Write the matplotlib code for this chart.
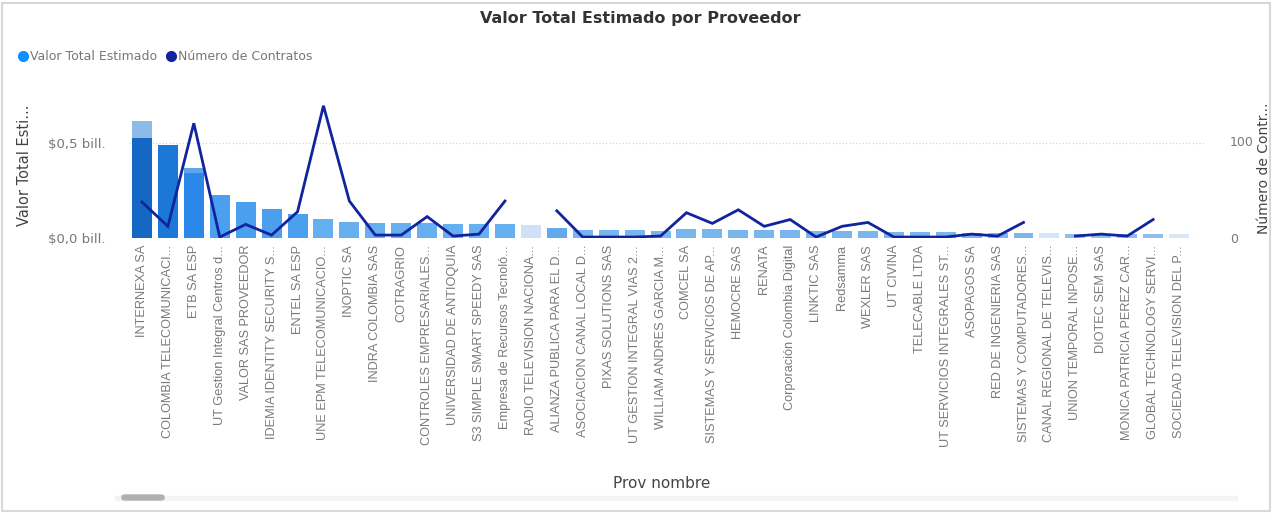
import numpy as np
import matplotlib
matplotlib.use("Agg")
import matplotlib.pyplot as plt
from matplotlib.patches import FancyBboxPatch, Rectangle
from matplotlib.lines import Line2D

# data
proveedores = [
    "INTERNEXA SA", "COLOMBIA TELECOMUNICACI...", "ETB SA ESP",
    "UT Gestion Integral Centros d...", "VALOR SAS PROVEEDOR",
    "IDEMIA IDENTITY SECURITY S...", "ENTEL SA ESP", "UNE EPM TELECOMUNICACIO...",
    "INOPTIC SA", "INDRA COLOMBIA SAS", "COTRAGRIO", "CONTROLES EMPRESARIALES...",
    "UNIVERSIDAD DE ANTIOQUIA", "S3 SIMPLE SMART SPEEDY SAS",
    "Empresa de Recursos Tecnoló...", "RADIO TELEVISION NACIONA...",
    "ALIANZA PUBLICA PARA EL D...", "ASOCIACION CANAL LOCAL D...",
    "PIXAS SOLUTIONS SAS", "UT GESTION INTEGRAL VIAS 2...",
    "WILLIAM ANDRES GARCIA M...", "COMCEL SA", "SISTEMAS Y SERVICIOS DE AP...",
    "HEMOCRE SAS", "RENATA", "Corporación Colombia Digital", "LINKTIC SAS",
    "Redsamma", "WEXLER SAS", "UT CIVINA", "TELECABLE LTDA",
    "UT SERVICIOS INTEGRALES ST...", "ASOPAGOS SA", "RED DE INGENIERIA SAS",
    "SISTEMAS Y COMPUTADORES...", "CANAL REGIONAL DE TELEVIS...",
    "UNION TEMPORAL INPOSE...", "DIOTEC SEM SAS", "MONICA PATRICIA PEREZ CAR...",
    "GLOBAL TECHNOLOGY SERVI...", "SOCIEDAD TELEVISION DEL P...",
]

# billones
valor_total = [0.526, 0.49, 0.342, 0.226, 0.19, 0.153, 0.126, 0.10, 0.084, 0.079,
               0.078, 0.08, 0.075, 0.075, 0.074, 0.068, 0.055, 0.04, 0.042, 0.04,
               0.038, 0.045, 0.045, 0.042, 0.04, 0.04, 0.038, 0.036, 0.035, 0.03,
               0.03, 0.03, 0.028, 0.027, 0.026, 0.025, 0.022, 0.022, 0.021, 0.02,
               0.02]
valor_extra = [0.09, 0, 0.026] + [0] * 38

n = np.nan
contratos = [37, 12, 118, 1, 14, 3, 27, 136, 38, 3, 3, 22, 2, 4, 38, n, 28, 1, 1, 1,
             2, 26, 15, 29, 12, 19, 1, 12, 16, 1, 1, 1, 4, 2, 16, n, 2, 4, 2, 19, n]

colores = (["#1467c2", "#1b78d8", "#2b88e8"] + ["#4a9fee"] * 4 + ["#66aff0"] * 8
           + ["#cfe1f6", "#62aaec"] + ["#7ab6ee"] * 18 + ["#d4e5f7"]
           + ["#8dc0f0"] * 4 + ["#d8e8f8"])
colores_extra = ["#8cbbe8", "#8cbbe8", "#5fa5ea"] + ["#ffffff"] * 38

x = np.arange(len(proveedores))

fig = plt.figure(figsize=(12.75, 5.13), dpi=100)
ax = fig.add_axes([129 / 1275, 1 - 238 / 513, (1205 - 129) / 1275, 141 / 513])
ax2 = ax.twinx()

ax.bar(x, valor_total, width=0.77, color=colores, zorder=2)
ax.bar(x, valor_extra, width=0.77, bottom=valor_total, color=colores_extra, zorder=2)
ax2.plot(x, contratos, color="#12239E", lw=2.0, solid_joinstyle="miter", zorder=3)

ax.set_xlim(-0.5, 41.0)
ax.set_ylim(0, 0.74)
ax2.set_ylim(0, 145)

ax.set_yticks([0, 0.5])
ax.set_yticklabels(["$0,0 bill.", "$0,5 bill."])
ax2.set_yticks([0, 100])
ax2.set_yticklabels(["0", "100"])
ax.yaxis.grid(True, linestyle=(0, (1, 2)), color="#d0d0d0", lw=0.8, zorder=0)
ax.set_axisbelow(True)

ax.set_xticks(x)
ax.set_xticklabels(proveedores, rotation=90, fontsize=9.2, color="#7a7a7a",
                   family="Liberation Sans", va="top")
for a in (ax, ax2):
    for s in a.spines.values():
        s.set_visible(False)
    a.tick_params(length=0)
ax.tick_params(axis="x", pad=5)
ax.tick_params(axis="y", labelsize=9.5, labelcolor="#777777", pad=17)
ax2.tick_params(axis="y", labelsize=9, labelcolor="#777777", pad=18)

fig.text(640 / 1275, 1 - 18 / 513, "Valor Total Estimado por Proveedor",
         ha="center", va="center", fontsize=11.5, weight="bold", color="#333333")
fig.text(25 / 1275, 1 - 165 / 513, "Valor Total Esti...", rotation=90,
         ha="center", va="center", fontsize=10.5, color="#444444")
fig.text(1264 / 1275, 1 - 168 / 513, "Número de Contr...", rotation=90,
         ha="center", va="center", fontsize=10, color="#444444")
fig.text(662 / 1275, 1 - 484 / 513, "Prov nombre", ha="center", va="center",
         fontsize=11, color="#444444")

# legend
handles = [Line2D([], [], marker="o", ls="", color="#118DFF", markersize=7),
           Line2D([], [], marker="o", ls="", color="#12239E", markersize=7)]
fig.legend(handles, ["Valor Total Estimado", "Número de Contratos"],
           loc="center left", bbox_to_anchor=(5 / 1275, 1 - 57 / 513), ncol=2,
           frameon=False, fontsize=9, labelcolor="#777777", handletextpad=0.1,
           columnspacing=0.6, handlelength=1.0)

# scrollbar and frame
fig.patches.append(Rectangle((0.09, 1 - 500 / 513), 0.88, 4 / 513,
                             transform=fig.transFigure, color="#f4f4f4"))
fig.patches.append(FancyBboxPatch((122 / 1275, 1 - 500 / 513), 42 / 1275, 5 / 513,
                                  boxstyle="round,pad=0,rounding_size=0.003",
                                  transform=fig.transFigure, color="#b0b0b0"))
fig.patches.append(Rectangle((2 / 1275, 2 / 513), 1268 / 1275, 508 / 513,
                             transform=fig.transFigure, fill=False,
                             edgecolor="#d8d8d8", lw=1.5))

fig.savefig("out.png", dpi=100, facecolor="white")
